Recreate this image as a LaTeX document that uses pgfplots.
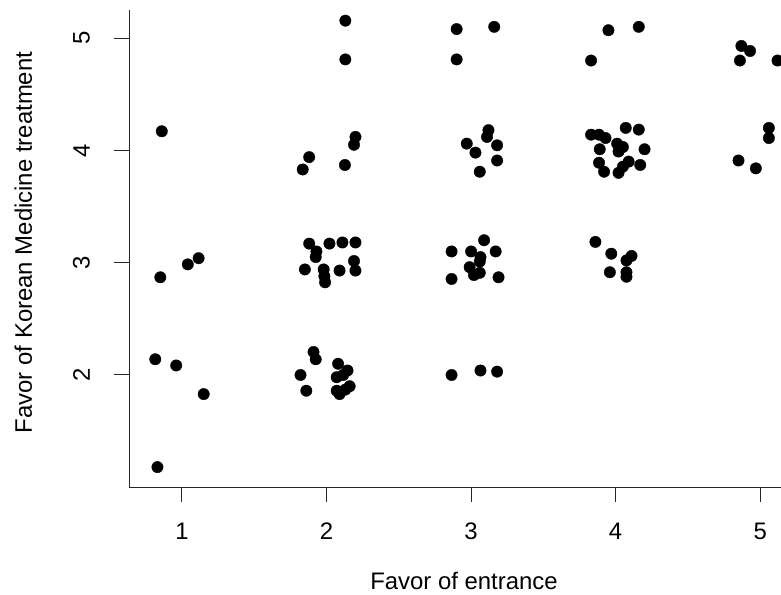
\documentclass[border=0pt]{standalone}
\usepackage{pgfplots}
\pgfplotsset{compat=1.18}
\usepackage{fontspec}
\setmainfont{Liberation Sans}
\begin{document}
\begin{tikzpicture}
\begin{axis}[
  at={(0,0)}, anchor=south west,
  scale only axis, width=651.5bp, height=477bp,
  xmin=0.6368, xmax=5.144, ymin=1.0027, ymax=5.250,
  axis x line*=bottom, axis y line*=left,
  axis line style={line width=1bp, black!85, -},
  xtick={1,2,3,4,5}, ytick={2,3,4,5},
  tick style={line width=1bp, black!85},
  tick align=outside, major tick length=15bp,
  /pgf/number format/assume math mode=true,
  ticklabel style={font=\fontsize{24}{28}\selectfont, inner sep=0pt},
  xticklabel style={anchor=north},
  yticklabel style={rotate=90, anchor=south},
  xticklabel shift=21bp, yticklabel shift=24.5bp,
  xlabel={Favor of entrance},
  ylabel={Favor of Korean Medicine treatment},
  label style={font=\fontsize{24}{28}\selectfont, inner sep=0pt},
  xlabel style={at={([yshift=-102bp]axis description cs:0.5134,0)}, anchor=base},
  ylabel style={at={([xshift=-97.5bp]axis description cs:0,0.5126)}, anchor=base, rotate=0},
  clip=true,
]
\addplot[only marks, mark=*, mark size=5.7bp, mark options={fill=black, draw=black}] table[row sep=\\] {
x y\\
0.86 4.17\\
0.85 2.87\\
1.04 2.985\\
1.115 3.04\\
0.815 2.14\\
0.96 2.085\\
1.15 1.83\\
0.83 1.18\\
2.13 5.155\\
2.13 4.81\\
2.20 4.12\\
2.19 4.05\\
1.88 3.94\\
1.835 3.83\\
2.127 3.87\\
1.88 3.17\\
1.93 3.10\\
1.925 3.05\\
2.02 3.17\\
2.11 3.18\\
2.20 3.18\\
1.85 2.94\\
1.98 2.94\\
1.985 2.88\\
1.99 2.825\\
2.09 2.93\\
2.19 3.015\\
2.20 2.93\\
1.91 2.205\\
1.925 2.14\\
1.82 2.00\\
1.86 1.86\\
2.08 2.10\\
2.145 2.04\\
2.07 1.98\\
2.115 2.00\\
2.07 1.86\\
2.09 1.83\\
2.16 1.90\\
2.13 1.87\\
2.90 5.08\\
2.90 4.81\\
3.16 5.10\\
3.12 4.18\\
3.11 4.12\\
2.97 4.06\\
3.03 3.98\\
3.18 4.045\\
3.18 3.91\\
3.06 3.81\\
3.09 3.20\\
2.865 3.10\\
3.00 3.10\\
3.17 3.10\\
3.065 3.05\\
3.06 3.01\\
2.99 2.96\\
3.02 2.89\\
3.06 2.91\\
2.865 2.855\\
3.19 2.87\\
2.865 2.00\\
3.065 2.04\\
3.18 2.03\\
3.95 5.07\\
4.16 5.10\\
3.83 4.80\\
4.07 4.20\\
4.16 4.185\\
3.83 4.14\\
3.885 4.14\\
3.93 4.11\\
3.89 4.01\\
4.01 4.06\\
4.05 4.03\\
4.02 3.99\\
4.20 4.01\\
3.885 3.89\\
3.92 3.81\\
4.02 3.80\\
4.05 3.855\\
4.09 3.90\\
4.17 3.87\\
3.86 3.185\\
3.97 3.08\\
4.11 3.06\\
4.075 3.02\\
3.96 2.915\\
4.075 2.915\\
4.075 2.875\\
4.87 4.93\\
4.93 4.885\\
4.86 4.80\\
5.12 4.80\\
5.06 4.20\\
5.06 4.11\\
4.85 3.91\\
4.97 3.84\\
};
\end{axis}
\pgfresetboundingbox
\useasboundingbox (-129.5bp,-108bp) rectangle (651.5bp,487bp);
\end{tikzpicture}
\end{document}
